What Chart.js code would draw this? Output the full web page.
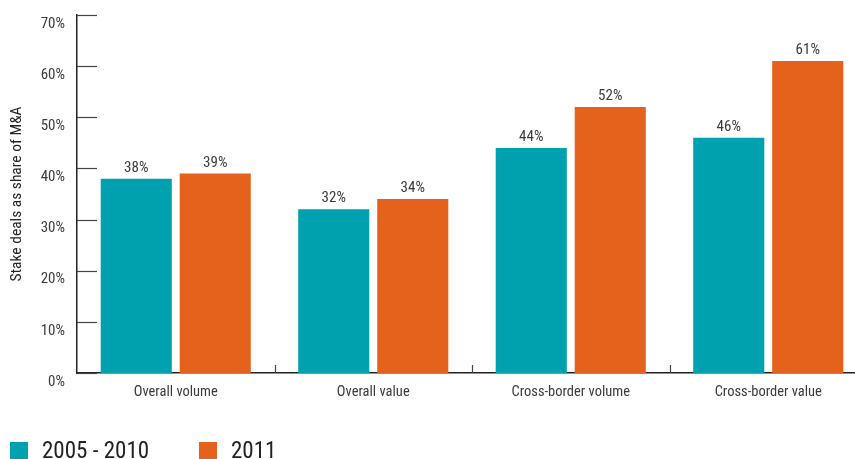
<!DOCTYPE html>
<html>
<head>
<meta charset="utf-8">
<script src="https://cdn.jsdelivr.net/npm/chart.js@4/dist/chart.umd.min.js"></script>
<style>
html,body{margin:0;padding:0;background:#fff;overflow:hidden;width:855px;height:459px;}
canvas{display:block;}
</style>
</head>
<body>
<canvas id="c" width="867" height="459"></canvas>
<script>
const categories = ["Overall volume", "Overall value", "Cross-border volume", "Cross-border value"];
const seriesLabels = ["2005 - 2010", "2011"];
const values2005_2010 = [38, 32, 44, 46];
const values2011 = [39, 34, 52, 61];
const yAxisTitle = "Stake deals as share of M&A";

const FONT = "'Liberation Sans Narrow', 'Roboto Condensed', 'DejaVu Sans Condensed', sans-serif";
const TEXT = '#3a3a3a';
const TEAL = '#00A1AE';
const ORANGE = '#E4621C';

const decor = {
  id: 'decor',
  afterDatasetsDraw(chart) {
    const ctx = chart.ctx;
    const x = chart.scales.x, y = chart.scales.y;
    const area = chart.chartArea;
    ctx.save();
    ctx.strokeStyle = '#444';
    ctx.lineWidth = 1.2;
    y.ticks.forEach(t => {
      const py = Math.round(y.getPixelForValue(t.value)) + 0.5;
      ctx.beginPath();
      ctx.moveTo(area.left, py);
      ctx.lineTo(area.left + 20, py);
      ctx.stroke();
    });
    for (let i = 1; i < categories.length; i++) {
      const px = Math.round((x.getPixelForValue(i - 1) + x.getPixelForValue(i)) / 2) + 0.5;
      ctx.beginPath();
      ctx.moveTo(px, area.bottom);
      ctx.lineTo(px, area.bottom - 8);
      ctx.stroke();
    }
    ctx.fillStyle = TEXT;
    ctx.font = '15px ' + FONT;
    ctx.textAlign = 'center';
    ctx.textBaseline = 'alphabetic';
    chart.data.datasets.forEach((ds, di) => {
      const meta = chart.getDatasetMeta(di);
      meta.data.forEach((bar, i) => {
        ctx.fillText(ds.data[i] + '%', bar.x, bar.y - 7);
      });
    });
    const legendItems = chart.data.datasets.map(d => ({ label: d.label, color: d.backgroundColor }));
    const lx = [10, 199];
    ctx.font = '23px ' + FONT;
    ctx.textAlign = 'left';
    legendItems.forEach((it, i) => {
      ctx.fillStyle = it.color;
      ctx.fillRect(lx[i], 442, 18, 18);
      ctx.fillStyle = '#222';
      ctx.fillText(it.label, lx[i] + 32, 458);
    });
    ctx.restore();
  }
};

new Chart(document.getElementById('c'), {
  type: 'bar',
  data: {
    labels: categories,
    datasets: [
      { label: seriesLabels[0], data: values2005_2010, backgroundColor: TEAL, categoryPercentage: 0.8, barPercentage: 0.9 },
      { label: seriesLabels[1], data: values2011, backgroundColor: ORANGE, categoryPercentage: 0.8, barPercentage: 0.9 }
    ]
  },
  options: {
    responsive: false,
    animation: false,
    layout: { padding: { top: 15, right: 0, left: 0, bottom: 0 } },
    plugins: { legend: { display: false }, tooltip: { enabled: false } },
    scales: {
      x: {
        grid: { display: false, drawTicks: false },
        border: { display: true, color: '#222', width: 1.5 },
        ticks: { color: TEXT, font: { family: FONT, size: 14.5 }, padding: 11, maxRotation: 0 },
        afterFit(s) { s.height = 86; s.paddingLeft = 0; s.paddingRight = 0; }
      },
      y: {
        min: 0, max: 70,
        grid: { display: false, drawTicks: false },
        border: { display: true, color: '#222', width: 1.5 },
        ticks: { stepSize: 10, color: TEXT, font: { family: FONT, size: 15 }, padding: 12, labelOffset: 9, callback: v => v + '%' },
        title: { display: true, text: yAxisTitle, color: '#222', font: { family: FONT, size: 15.5 }, padding: { top: 8, bottom: 0 } },
        afterFit(s) { s.width = 77; s.paddingTop = 0; s.paddingBottom = 0; }
      }
    }
  },
  plugins: [decor]
});
</script>
</body>
</html>
